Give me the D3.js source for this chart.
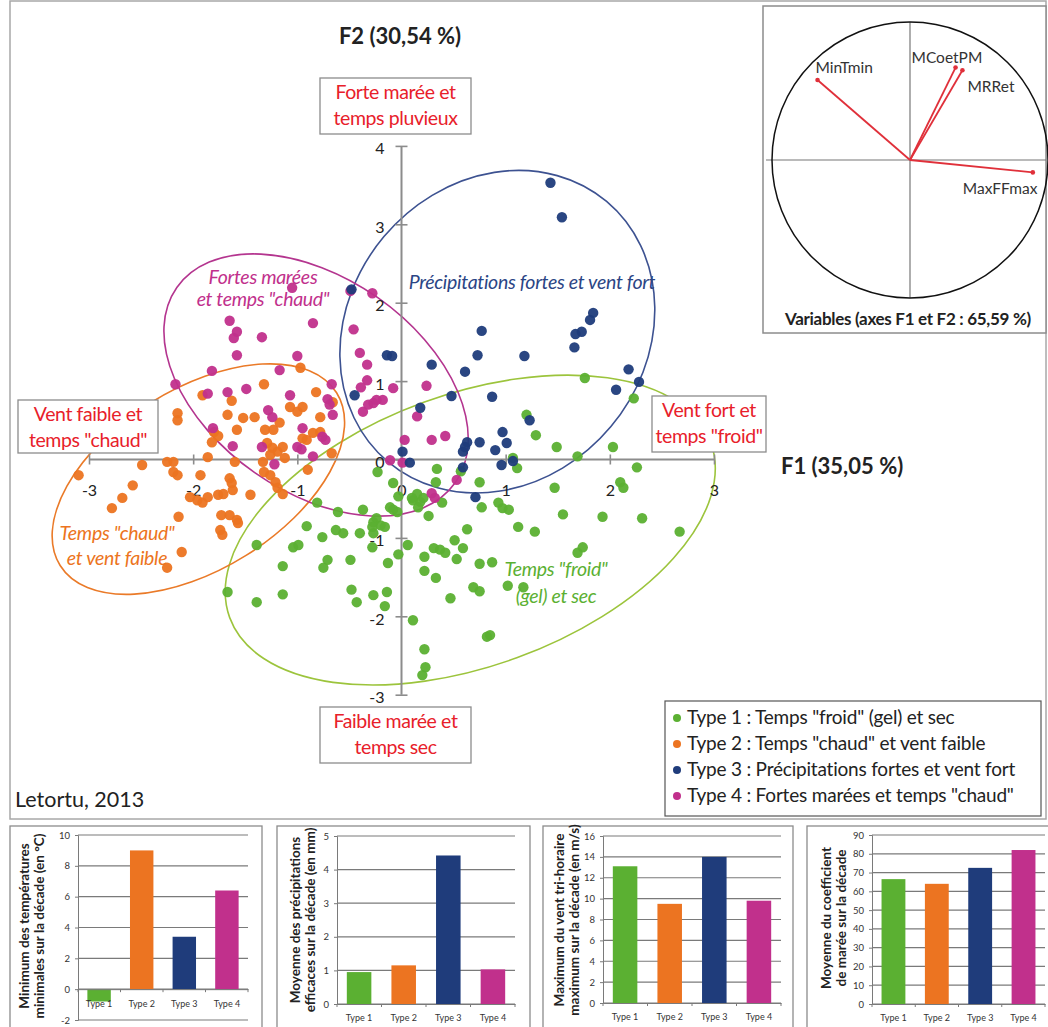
<!DOCTYPE html>
<html><head><meta charset="utf-8">
<script src="https://cdn.jsdelivr.net/npm/d3@7/dist/d3.min.js"></script>
<style>
body{margin:0;background:#fff;}
svg{display:block;font-family:Lato,"Open Sans",sans-serif;}
</style></head><body>
<script>
// ---------- DATA ----------
const typeNames = ["Type 1 : Temps \"froid\" (gel) et sec","Type 2 : Temps \"chaud\" et vent faible","Type 3 : Précipitations fortes et vent fort","Type 4 : Fortes marées et temps \"chaud\""];
const xTicks = [-3,-2,-1,0,1,2,3];
const yTicks = [-3,-2,-1,0,1,2,3,4];

const type1Points = [[1.76,1.04],[2.23,0.78],[1.20,0.57],[1.29,0.31],[1.49,0.16],[1.69,0.04],[2.03,0.16],[1.07,0.02],[1.11,-0.11],[2.26,-0.10],[2.10,-0.29],[2.13,-0.36],[1.47,-0.36],[0.34,-0.12],[0.33,-0.29],[0.57,-0.15],[0.75,-0.29],[-0.23,-0.16],[-0.08,-0.30],[-0.03,-0.47],[0.11,-0.52],[0.18,-0.54],[0.16,-0.61],[0.15,-0.44],[0.26,-0.72],[0.39,-0.55],[0.77,-0.61],[0.93,-0.55],[0.97,-0.62],[1.03,-0.64],[1.55,-0.70],[1.93,-0.73],[2.31,-0.75],[2.67,-0.92],[1.12,-0.86],[1.28,-0.92],[0.63,-0.89],[0.51,-1.03],[0.59,-1.13],[0.31,-1.13],[0.37,-1.15],[0.42,-1.19],[0.53,-1.27],[0.22,-1.24],[0.06,-1.09],[-0.03,-1.21],[-0.13,-1.32],[0.22,-1.42],[0.33,-1.51],[0.75,-1.33],[0.87,-1.31],[0.69,-1.63],[0.75,-1.68],[1.02,-1.61],[1.17,-1.63],[1.69,-1.19],[1.74,-1.12],[0.47,-1.77],[0.11,-2.05],[0.82,-2.26],[0.85,-2.24],[0.22,-2.42],[0.23,-2.65],[0.20,-2.75],[-0.27,-0.94],[-0.28,-1.12],[-0.11,-0.61],[-0.49,-1.28],[-0.48,-1.66],[-0.43,-1.82],[-0.27,-1.73],[-0.14,-1.69],[-0.16,-1.87],[-0.61,-0.67],[-0.56,-0.94],[-0.40,-0.94],[-0.63,-0.90],[-0.71,-1.28],[-0.81,-0.55],[-0.91,-0.85],[-1.04,-1.12],[-0.99,-1.09],[-0.76,-0.99],[-0.37,-0.64],[-0.27,-0.80],[-0.24,-0.75],[-0.20,-0.84],[-0.16,-0.86],[-0.28,-0.86],[-0.08,-0.64],[-0.04,-0.67],[-0.75,-1.38],[-1.14,-1.36],[-1.14,-1.72],[-1.39,-1.09],[-1.67,-1.69],[-1.39,-1.82],[0.10,-0.49],[0.21,-0.49]];

const type2Points = [[-0.97,1.17],[-1.32,0.96],[-0.82,0.86],[-1.91,0.82],[-1.63,0.75],[-1.07,0.67],[-0.95,0.67],[-1.00,0.61],[-0.66,0.73],[-2.40,0.59],[-2.15,0.59],[-2.15,0.50],[-1.67,0.57],[-1.52,0.53],[-1.41,0.54],[-0.78,0.54],[-1.58,0.38],[-1.80,0.35],[-1.82,0.22],[-1.76,0.30],[-1.31,0.38],[-1.23,0.38],[-1.17,0.47],[-0.95,0.27],[-0.85,0.34],[-0.78,0.35],[-0.91,0.25],[-1.29,0.21],[-1.24,0.15],[-1.19,0.10],[-1.14,0.16],[-1.26,0.06],[-1.12,0.02],[-1.33,-0.03],[-0.67,0.08],[-1.86,0.03],[-2.19,-0.03],[-2.25,-0.03],[-1.60,-0.03],[-2.49,-0.07],[-3.10,-0.20],[-2.58,-0.33],[-2.19,-0.16],[-2.15,-0.20],[-1.93,-0.20],[-1.65,-0.24],[-1.63,-0.30],[-1.62,-0.39],[-1.32,-0.16],[-1.26,-0.20],[-1.21,-0.29],[-1.19,-0.36],[-1.14,-0.44],[-0.90,-0.13],[-2.68,-0.49],[-2.78,-0.62],[-2.03,-0.48],[-1.96,-0.52],[-1.91,-0.55],[-1.86,-0.48],[-1.76,-0.45],[-1.71,-0.44],[-1.45,-0.45],[-2.14,-0.73],[-1.73,-0.71],[-1.65,-0.71],[-1.58,-0.77],[-1.57,-0.81],[-1.74,-0.90],[-1.72,-0.96],[-2.11,-1.18],[-2.25,-1.38]];

const type3Points = [[1.43,3.53],[1.54,3.09],[0.77,1.64],[0.73,1.33],[1.18,1.32],[0.29,1.21],[0.61,1.12],[1.84,1.87],[1.81,1.78],[1.73,1.63],[1.67,1.60],[1.66,1.43],[2.18,1.15],[2.28,0.99],[2.06,0.89],[0.87,0.80],[0.48,0.81],[0.18,0.66],[-0.14,1.33],[-0.09,1.32],[-0.45,0.82],[-0.48,2.17],[1.23,0.50],[0.01,0.10],[0.08,-0.04],[0.97,0.35],[1.01,0.21],[0.90,0.12],[0.75,0.22],[0.63,0.22],[0.59,0.10],[0.59,-0.10],[0.96,-0.07],[1.07,-0.02],[0.71,-0.48],[0.61,0.16]];

const type4Points = [[-1.05,2.19],[-0.49,2.15],[-0.28,2.12],[-1.65,1.77],[-1.58,1.63],[-1.61,1.55],[-1.34,1.56],[-0.85,1.74],[-0.46,1.66],[-1.58,1.33],[-1.00,1.32],[-1.17,1.14],[-0.40,1.36],[-0.33,1.21],[-1.82,1.13],[-2.17,0.96],[-0.33,1.01],[-0.39,0.92],[-0.08,0.91],[0.24,0.94],[-1.49,0.90],[-1.86,0.84],[-1.67,0.86],[-0.67,0.96],[-1.07,0.82],[-0.71,0.77],[-0.69,0.70],[-0.66,0.57],[-1.28,0.63],[-1.24,0.54],[-0.37,0.61],[-0.27,0.72],[-0.18,0.76],[-0.32,0.70],[-0.24,0.76],[0.15,0.55],[-1.81,0.40],[-0.95,0.40],[-0.76,0.29],[-0.73,0.25],[-1.62,0.17],[-1.34,0.16],[-1.00,0.16],[-0.96,0.13],[-0.85,0.04],[0.03,0.25],[0.29,0.25],[0.42,0.30],[-0.11,-0.01],[0.01,-0.04],[-1.22,-0.06],[0.29,-0.43],[0.32,-0.49],[0.53,-0.26]];

const barCategories = ["Type 1","Type 2","Type 3","Type 4"];
const minTemperature = [-0.8, 9.0, 3.4, 6.4];
const meanPrecipitation = [0.95, 1.15, 4.42, 1.03];
const maxWind = [13.1, 9.5, 14.0, 9.8];
const meanTideCoef = [66.5, 64, 72.5, 82];

const variableNames = ["MinTmin","MCoetPM","MRRet","MaxFFmax"];
const variableF1 = [-0.67, 0.33, 0.38, 0.89];
const variableF2 = [0.58, 0.67, 0.65, -0.09];

// ---------- STYLE ----------
const typeColors = ["#5bb032","#ec7421","#1f3c7b","#c1308c"];
const ellipseColors = ["#9cc43c","#ea7a28","#3d5291","#b4358f"];
const red = "#e8202a";

const W = 1048, H = 1027;
const svg = d3.select("body").append("svg").attr("width",W).attr("height",H);

svg.append("rect").attr("x",10).attr("y",1).attr("width",1036).attr("height",818)
  .attr("fill","none").attr("stroke","#a8a8a8").attr("stroke-width",1.5);

// ---------- SCATTER ----------
const x = d3.scaleLinear().domain([-3,3]).range([89,714]);
const y = d3.scaleLinear().domain([-3,4]).range([694.7,145.9]);
const axisColor = "#8c8c8c";

const ellipses = [
  {c:[0.66,-0.90], rx:256, ry:136, rot:-20, color:ellipseColors[0]},
  {c:[-1.95,-0.25], rx:163, ry:90, rot:-32, color:ellipseColors[1]},
  {c:[0.92,1.63], rx:148, ry:170, rot:40, color:ellipseColors[2]},
  {c:[-0.82,0.95], rx:170, ry:107, rot:35, color:ellipseColors[3]}
];
const gE = svg.append("g");
ellipses.forEach(e=>{
  gE.append("ellipse").attr("cx",0).attr("cy",0).attr("rx",e.rx).attr("ry",e.ry)
    .attr("transform",`translate(${x(e.c[0])},${y(e.c[1])}) rotate(${e.rot})`)
    .attr("fill","none").attr("stroke",e.color).attr("stroke-width",1.6);
});

const gx = svg.append("g").attr("transform",`translate(0,${y(0)})`)
  .call(d3.axisBottom(x).tickValues(xTicks).tickSize(5).tickPadding(20).tickFormat(d=>String(d)));
gx.select(".domain").attr("stroke",axisColor).attr("stroke-width",2).attr("d",`M${x(-3)},0H${x(3)}`);
gx.selectAll(".tick line").attr("stroke",axisColor).attr("stroke-width",1.6).attr("y1",-5).attr("y2",5);
gx.selectAll(".tick text").attr("font-size",16).attr("fill","#222").attr("font-family","Lato");

const gy = svg.append("g").attr("transform",`translate(${x(0)},0)`)
  .call(d3.axisLeft(y).tickValues(yTicks).tickSize(5).tickPadding(12).tickFormat(d=>String(d)));
gy.select(".domain").attr("stroke",axisColor).attr("stroke-width",2).attr("d",`M0,${y(-3)}V${y(4)}`);
gy.selectAll(".tick line").attr("stroke",axisColor).attr("stroke-width",1.6).attr("x1",-6).attr("x2",6);
gy.selectAll(".tick text").attr("font-size",16).attr("fill","#222").attr("font-family","Lato").attr("dy","0.5em");

const allPts = [type1Points,type2Points,type3Points,type4Points];
[0,1,3,2].forEach(i=>{
  svg.append("g").selectAll("circle").data(allPts[i]).join("circle")
    .attr("cx",d=>x(d[0])).attr("cy",d=>y(d[1])).attr("r",5.2)
    .attr("fill",typeColors[i]).attr("opacity",0.95);
});

svg.append("text").attr("x",400).attr("y",44).attr("text-anchor","middle")
  .attr("font-weight","bold").attr("font-size",22).attr("fill","#222").text("F2 (30,54 %)");
svg.append("text").attr("x",781).attr("y",474)
  .attr("font-weight","bold").attr("font-size",22).attr("fill","#222").text("F1 (35,05 %)");

const boxes = [
  {x0:320,y0:78,x1:471,y1:134,lines:["Forte marée et","temps pluvieux"]},
  {x0:18,y0:400,x1:158,y1:453,lines:["Vent faible et","temps \"chaud\""]},
  {x0:652,y0:396,x1:766,y1:452,lines:["Vent fort et","temps \"froid\""]},
  {x0:320,y0:707,x1:471,y1:763,lines:["Faible marée et","temps sec"]}
];
boxes.forEach(b=>{
  svg.append("rect").attr("x",b.x0).attr("y",b.y0).attr("width",b.x1-b.x0).attr("height",b.y1-b.y0)
    .attr("fill","#fff").attr("stroke","#8c8c8c").attr("stroke-width",1.3);
  b.lines.forEach((t,i)=>{
    svg.append("text").attr("x",(b.x0+b.x1)/2).attr("y",b.y0+21+i*26).attr("text-anchor","middle")
      .attr("font-size",19.5).attr("fill",red).attr("letter-spacing","-0.4").text(t);
  });
});

const groupLabels = [
  {x:263,y:[284,306],lines:["Fortes marées","et temps \"chaud\""],c:typeColors[3]},
  {x:532,y:[289],lines:["Précipitations fortes et vent fort"],c:"#2b4585"},
  {x:117,y:[540,565],lines:["Temps \"chaud\"","et vent faible"],c:typeColors[1]},
  {x:556,y:[576,603],lines:["Temps \"froid\"","(gel) et sec"],c:typeColors[0]}
];
groupLabels.forEach(g=>{
  g.lines.forEach((t,i)=>{
    svg.append("text").attr("x",g.x).attr("y",g.y[i]).attr("text-anchor","middle")
      .attr("font-style","italic").attr("font-size",19.5).attr("fill",g.c).attr("letter-spacing","-0.3").text(t);
  });
});

svg.append("rect").attr("x",665).attr("y",701).attr("width",376).attr("height",115)
  .attr("fill","#fff").attr("stroke","#555").attr("stroke-width",1.2);
typeNames.forEach((t,i)=>{
  const yy = 718 + i*26;
  svg.append("circle").attr("cx",677).attr("cy",yy).attr("r",4).attr("fill",typeColors[i]);
  svg.append("text").attr("x",687).attr("y",yy+6).attr("font-size",19).attr("letter-spacing","-0.2").attr("fill","#222").text(t);
});

svg.append("text").attr("x",15).attr("y",807).attr("font-size",21.5).attr("fill","#222").text("Letortu, 2013");

// ---------- VARIABLES CIRCLE ----------
svg.append("rect").attr("x",763).attr("y",6).attr("width",283).attr("height",327)
  .attr("fill","#fff").attr("stroke","#8c8c8c").attr("stroke-width",1.5);
const vx = d3.scaleLinear().domain([-1,1]).range([772,1048]);
const vy = d3.scaleLinear().domain([-1,1]).range([298,22]);
svg.append("line").attr("x1",766).attr("x2",1046).attr("y1",vy(0)).attr("y2",vy(0)).attr("stroke","#777").attr("stroke-width",1.2);
svg.append("line").attr("x1",vx(0)).attr("x2",vx(0)).attr("y1",vy(1)).attr("y2",vy(-1)).attr("stroke","#777").attr("stroke-width",1.2);
svg.append("circle").attr("cx",vx(0)).attr("cy",vy(0)).attr("r",vx(1)-vx(0)).attr("fill","none").attr("stroke","#111").attr("stroke-width",1.5);
const labOff = [[-2,-7],[-44,-5],[5,22],[-70,22]];
variableNames.forEach((n,i)=>{
  svg.append("line").attr("x1",vx(0)).attr("y1",vy(0)).attr("x2",vx(variableF1[i])).attr("y2",vy(variableF2[i]))
    .attr("stroke","#e0303a").attr("stroke-width",1.8);
  svg.append("circle").attr("cx",vx(variableF1[i])).attr("cy",vy(variableF2[i])).attr("r",2.3).attr("fill","#e0303a");
  svg.append("text").attr("x",vx(variableF1[i])+labOff[i][0]).attr("y",vy(variableF2[i])+labOff[i][1])
    .attr("font-size",15.5).attr("fill","#333").text(n);
});
svg.append("text").attr("x",908).attr("y",325).attr("text-anchor","middle").attr("font-weight","bold")
  .attr("font-size",17).attr("fill","#222").attr("letter-spacing","-0.3").text("Variables (axes F1 et F2 : 65,59 %)");

// ---------- BAR PANELS ----------
const panels = [
  {box:[10,826,262,1030], xr:[78,248], yr:[1020,835], dom:[-2,10], ticks:d3.range(-2,11,2), vals:minTemperature,
   lab:["Minimum des températures","minimales sur la décade (en °C)"], labX:[24,39], labY:926},
  {box:[277,826,530,1030], xr:[337,515], yr:[1004,836], dom:[0,5], ticks:d3.range(0,6,1), vals:meanPrecipitation,
   lab:["Moyenne des précipitations","efficaces sur la décade (en mm)"], labX:[295,310], labY:920},
  {box:[543,826,793,1030], xr:[603,781], yr:[1003,836], dom:[0,16], ticks:d3.range(0,17,2), vals:maxWind,
   lab:["Maximum du vent tri-horaire","maximum sur la décade (en m/s)"], labX:[559,574], labY:920},
  {box:[807,826,1050,1030], xr:[872,1045], yr:[1004,835], dom:[0,90], ticks:d3.range(0,91,10), vals:meanTideCoef,
   lab:["Moyenne du coefficient","de marée sur la décade"], labX:[826,841], labY:918}
];
panels.forEach(p=>{
  const g = svg.append("g");
  g.append("rect").attr("x",p.box[0]).attr("y",p.box[1]).attr("width",p.box[2]-p.box[0]).attr("height",p.box[3]-p.box[1])
    .attr("fill","#fff").attr("stroke","#8c8c8c").attr("stroke-width",1.3);
  const bx = d3.scaleBand().domain(barCategories).range(p.xr).paddingInner(0.45).paddingOuter(0.22);
  const by = d3.scaleLinear().domain(p.dom).range(p.yr);
  g.append("g").selectAll("line").data(p.ticks).join("line")
    .attr("x1",p.xr[0]).attr("x2",p.xr[1]).attr("y1",d=>by(d)).attr("y2",d=>by(d))
    .attr("stroke","#7a7a7a").attr("stroke-width",1.2);
  const ya = g.append("g").attr("transform",`translate(${p.xr[0]},0)`)
    .call(d3.axisLeft(by).tickValues(p.ticks).tickSize(3).tickPadding(5).tickFormat(d=>String(d)));
  ya.select(".domain").attr("stroke","#7a7a7a");
  ya.selectAll(".tick line").attr("stroke","#7a7a7a");
  ya.selectAll(".tick text").attr("font-size",9.5).attr("fill","#333").attr("font-family","Lato");
  g.append("g").selectAll("rect").data(p.vals).join("rect")
    .attr("x",(d,i)=>bx(barCategories[i])).attr("width",bx.bandwidth())
    .attr("y",d=>by(Math.max(0,d))).attr("height",d=>Math.abs(by(d)-by(0)))
    .attr("fill",(d,i)=>typeColors[i]);
  const xa = g.append("g").attr("transform",`translate(0,${by(0)})`)
    .call(d3.axisBottom(bx).tickSize(0).tickPadding(11));
  xa.select(".domain").attr("stroke","#7a7a7a");
  xa.selectAll(".tick text").attr("font-size",9).attr("fill","#333").attr("font-family","Lato");
  g.append("g").selectAll("line").data(d3.range(5)).join("line")
    .attr("x1",i=>p.xr[0]+i*(p.xr[1]-p.xr[0])/4).attr("x2",i=>p.xr[0]+i*(p.xr[1]-p.xr[0])/4)
    .attr("y1",by(0)).attr("y2",by(0)+3).attr("stroke","#7a7a7a");
  p.lab.forEach((t,i)=>{
    g.append("text").attr("transform",`translate(${p.labX[i]+5},${p.labY}) rotate(-90)`)
      .attr("text-anchor","middle").attr("font-weight","bold").attr("font-size",13.5).attr("fill","#222").text(t);
  });
});
</script>
</body></html>
